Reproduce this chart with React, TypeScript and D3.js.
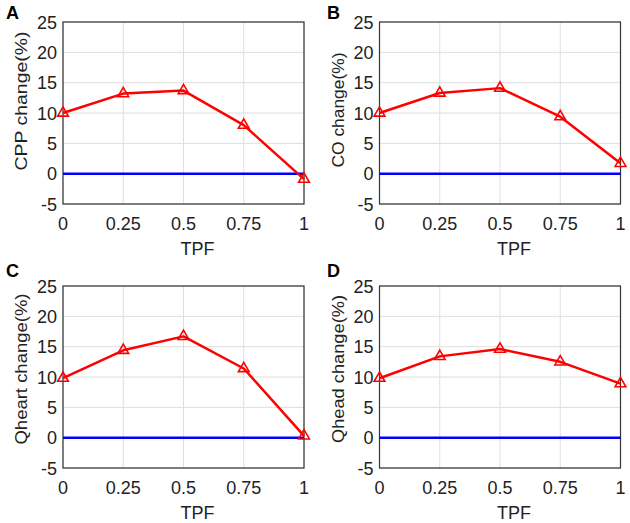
import React from "react";
import * as d3 from "d3";

const tpf = [0, 0.25, 0.5, 0.75, 1];
const cppChange = [10.0, 13.2, 13.7, 8.0, -0.9];
const coChange = [10.0, 13.3, 14.1, 9.4, 1.7];
const qheartChange = [9.8, 14.4, 16.7, 11.4, 0.3];
const qheadChange = [9.8, 13.4, 14.6, 12.5, 8.9];
const baseline = [0, 0, 0, 0, 0];

const xTicks = [0, 0.25, 0.5, 0.75, 1];
const xTickLabels = ["0", "0.25", "0.5", "0.75", "1"];
const yTicks = [-5, 0, 5, 10, 15, 20, 25];

const panelLetters = ["A", "B", "C", "D"];
const yLabels = ["CPP change(%)", "CO change(%)", "Qheart change(%)", "Qhead change(%)"];
const xLabel = "TPF";
const seriesList = [cppChange, coChange, qheartChange, qheadChange];

const FONT = "'Liberation Sans', Arial, Helvetica, sans-serif";

const panels = [
  { x0: 63, x1: 304, y0: 22, y1: 204, lx: 6, ly: 19, ylc: 101, yll: 139 },
  { x0: 379.5, x1: 620.5, y0: 22, y1: 204, lx: 327, ly: 19, ylc: 110, yll: 115 },
  { x0: 63, x1: 304, y0: 286, y1: 468, lx: 6, ly: 277, ylc: 369, yll: 151 },
  { x0: 379.5, x1: 620.5, y0: 286, y1: 468, lx: 327, ly: 277, ylc: 369, yll: 148 },
];

function Panel({ idx }: { idx: number }) {
  const p = panels[idx];
  const data = seriesList[idx];
  const x = d3.scaleLinear().domain([0, 1]).range([p.x0, p.x1]);
  const y = d3.scaleLinear().domain([-5, 25]).range([p.y1, p.y0]);
  const line = d3
    .line<number>()
    .x((_, i) => x(tpf[i]))
    .y((d) => y(d));
  const tri = d3.symbol().type(d3.symbolTriangle).size(50)();
  const cx = (p.x0 + p.x1) / 2;
  return (
    <g>
      {xTicks.map((t) => (
        <line key={"gx" + t} x1={x(t)} x2={x(t)} y1={p.y0} y2={p.y1} stroke="#dedede" strokeWidth={1} />
      ))}
      {yTicks.map((t) => (
        <line key={"gy" + t} x1={p.x0} x2={p.x1} y1={y(t)} y2={y(t)} stroke="#dedede" strokeWidth={1} />
      ))}
      <rect x={p.x0} y={p.y0} width={p.x1 - p.x0} height={p.y1 - p.y0} fill="none" stroke="#333" strokeWidth={1.2} />
      {xTicks.map((t, i) => (
        <text key={"tx" + t} x={x(t)} y={p.y1 + 26} textAnchor="middle" fontSize={18} fontFamily={FONT} fill="#222">
          {xTickLabels[i]}
        </text>
      ))}
      {yTicks.map((t) => (
        <text key={"ty" + t} x={p.x0 - 6} y={y(t) + 6.5} textAnchor="end" fontSize={18} fontFamily={FONT} fill="#222">
          {t}
        </text>
      ))}
      <path d={line(baseline) || ""} fill="none" stroke="#0000ff" strokeWidth={2.5} />
      <path d={line(data) || ""} fill="none" stroke="#ff0000" strokeWidth={2.5} strokeLinejoin="round" />
      {data.map((v, i) => (
        <path
          key={"m" + i}
          d={tri || ""}
          transform={`translate(${x(tpf[i])},${y(v)})`}
          fill="none"
          stroke="#ff0000"
          strokeWidth={1.6}
        />
      ))}
      <text x={cx + 14} y={p.y1 + 51} textAnchor="middle" fontSize={18} fontFamily={FONT} fill="#222">
        {xLabel}
      </text>
      <text
        transform={`translate(${p.x0 - 36},${p.ylc}) rotate(-90)`}
        textAnchor="middle"
        fontSize={17}
        fontFamily={FONT}
        fill="#222"
        textLength={p.yll}
        lengthAdjust="spacingAndGlyphs"
      >
        {yLabels[idx]}
      </text>
      <text x={p.lx} y={p.ly} fontSize={18} fontWeight="bold" fontFamily={FONT} fill="#000">
        {panelLetters[idx]}
      </text>
    </g>
  );
}

export default function App() {
  return (
    <div style={{ position: "absolute", left: 0, top: 0 }}>
      <svg width={630} height={523} style={{ display: "block", background: "#fff" }}>
        {[0, 1, 2, 3].map((i) => (
          <Panel key={i} idx={i} />
        ))}
      </svg>
    </div>
  );
}
